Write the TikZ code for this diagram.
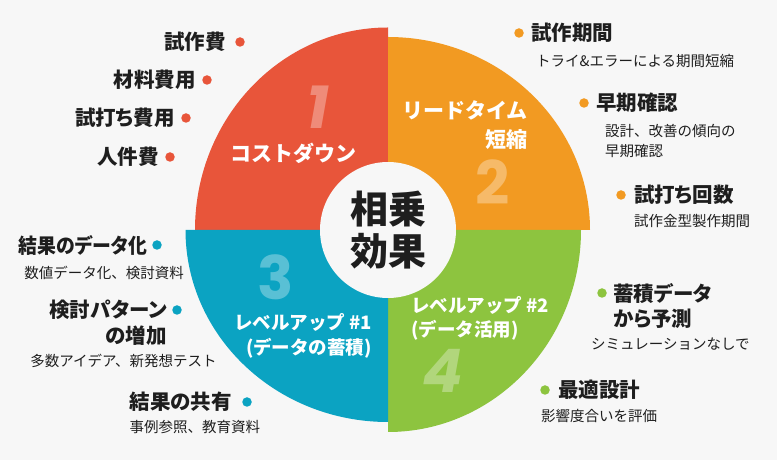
\documentclass[tikz,border=0pt]{standalone}
\usepackage{fontspec}
\setmainfont{Noto Sans CJK JP}
\newfontfamily\jpprop[RawFeature=+palt]{Noto Sans CJK JP}
\newfontfamily\numfont{Poppins}
\usetikzlibrary{positioning}

\definecolor{bggray}{HTML}{F7F7F7}
\definecolor{costred}{HTML}{E8553A}
\definecolor{leadorange}{HTML}{F29A22}
\definecolor{levelblue}{HTML}{0BA3C2}
\definecolor{levelgreen}{HTML}{8DC43F}
\definecolor{inktext}{HTML}{1E1E1E}

\begin{document}
\begin{tikzpicture}[
    x=1pt, y=1pt,
    itemdot/.style={circle, fill=#1, inner sep=0pt, minimum size=9.5pt},
    itemtitle/.style={font=\jpprop\bfseries\fontsize{20.5}{25.5}\selectfont, text=inktext, inner sep=0pt},
    itemnote/.style={font=\fontsize{14.5}{20}\selectfont, text=inktext, inner sep=0pt},
    quadlabel/.style={font=\bfseries\fontsize{21}{28.5}\selectfont, text=white, inner sep=0pt},
    quadlabelsmall/.style={font=\bfseries\fontsize{18.5}{24.5}\selectfont, text=white, inner sep=0pt},
    bignum/.style={font=\numfont\bfseries\fontsize{60}{60}\selectfont, text=white, opacity=0.32, inner sep=0pt},
  ]
    \fill[bggray] (0,0) rectangle (777,460);
    \useasboundingbox (0,0) rectangle (777,460);

    % four quadrants
    \fill[costred] (388,230) -- (195,230) arc[start angle=180, end angle=90, x radius=193, y radius=202.5] -- cycle;
    \fill[leadorange] (388,230) -- (388,423) arc[start angle=90, end angle=0, x radius=202, y radius=193] -- cycle;
    \fill[levelgreen] (388,230) -- (581,230) arc[start angle=0, end angle=-90, x radius=193, y radius=202] -- cycle;
    \fill[levelblue] (388,230) -- (388,38) arc[start angle=270, end angle=180, x radius=202.5, y radius=192] -- cycle;

    \node[bignum] (num1) at (318,353) {\itshape 1};
    \node[bignum] (num2) at (493,278) {2};
    \node[bignum] (num3) at (276,183) {3};
    \node[bignum] (num4) at (443,89) {\itshape 4};

    \node[quadlabel] (costdown) at (293,307) {コストダウン};
    \node[quadlabel, align=right, anchor=east] (leadtime) at (528,335) {リードタイム\\短縮};
    \node[quadlabelsmall, align=right, anchor=east] (level1) at (372,124.25) {レベルアップ \#1\\(データの蓄積)};
    \node[quadlabelsmall, align=left, anchor=west] (level2) at (411,141.5) {レベルアップ \#2\\(データ活用)};

    % centre
    \node[circle, fill=bggray, minimum size=136pt, inner sep=0pt] (core) at (388,230) {};
    \node[font=\bfseries\fontsize{38}{42}\selectfont, align=center, text=inktext, inner sep=0pt] (synergy) at (core) {相乗\\効果};

    % cost items
    \node[itemdot=costred] (dot-protocost) at (240,418) {};
    \node[itemtitle, left=9pt of dot-protocost] (protocost) {試作費};
    \node[itemdot=costred] (dot-material) at (207,380) {};
    \node[itemtitle, left=6pt of dot-material] (material) {材料費用};
    \node[itemdot=costred] (dot-trialcost) at (186,342) {};
    \node[itemtitle, left=6pt of dot-trialcost] (trialcost) {試打ち費用};
    \node[itemdot=costred] (dot-labor) at (170,303) {};
    \node[itemtitle, left=6pt of dot-labor] (labor) {人件費};

    % lead time items
    \node[itemdot=leadorange] (dot-prototime) at (519,427) {};
    \node[itemtitle, right=7pt of dot-prototime] (prototime) {試作期間};
    \node[itemnote, below right=11.5pt and 5pt of prototime.south west] (prototime-note) {トライ\&エラーによる期間短縮};
    \node[itemdot=leadorange] (dot-earlycheck) at (584,357) {};
    \node[itemtitle, right=7pt of dot-earlycheck] (earlycheck) {早期確認};
    \node[itemnote, align=left, below right=11.5pt and 9pt of earlycheck.south west] (earlycheck-note) {設計、改善の傾向の\\早期確認};
    \node[itemdot=leadorange] (dot-trialcount) at (621,265) {};
    \node[itemtitle, right=8pt of dot-trialcount] (trialcount) {試打ち回数};
    \node[itemnote, below right=9.5pt and 0pt of trialcount.south west] (trialcount-note) {試作金型製作期間};

    % level up 1 items
    \node[itemdot=levelblue] (dot-dataize) at (157,215) {};
    \node[itemtitle, left=5pt of dot-dataize, xscale=0.92] (dataize) {結果のデータ化};
    \node[itemnote, below right=10.5pt and 6pt of dataize.south west] (dataize-note) {数値データ化、検討資料};
    \node[itemdot=levelblue] (dot-patterns) at (177,150) {};
    \node[itemtitle, align=right, anchor=north east] (patterns) at ([xshift=-5pt, yshift=10pt]dot-patterns.west) {検討パターン\\の増加};
    \node[itemnote, below right=8.5pt and -19pt of patterns.south west] (patterns-note) {多数アイデア、新発想テスト};
    \node[itemdot=levelblue] (dot-sharing) at (247,58) {};
    \node[itemtitle, left=10pt of dot-sharing] (sharing) {結果の共有};
    \node[itemnote, below right=8.5pt and 0pt of sharing.south west] (sharing-note) {事例参照、教育資料};

    % level up 2 items
    \node[itemdot=levelgreen] (dot-predict) at (602,167) {};
    \node[itemtitle, align=left, anchor=north west] (predict) at ([xshift=6pt, yshift=10pt]dot-predict.east) {蓄積データ\\から予測};
    \node[itemnote, below right=8.5pt and -22pt of predict.south west] (predict-note) {シミュレーションなしで};
    \node[itemdot=levelgreen] (dot-optimum) at (545,70) {};
    \node[itemtitle, right=8pt of dot-optimum] (optimum) {最適設計};
    \node[itemnote, below right=9.5pt and -17pt of optimum.south west] (optimum-note) {影響度合いを評価};
\end{tikzpicture}
\end{document}
